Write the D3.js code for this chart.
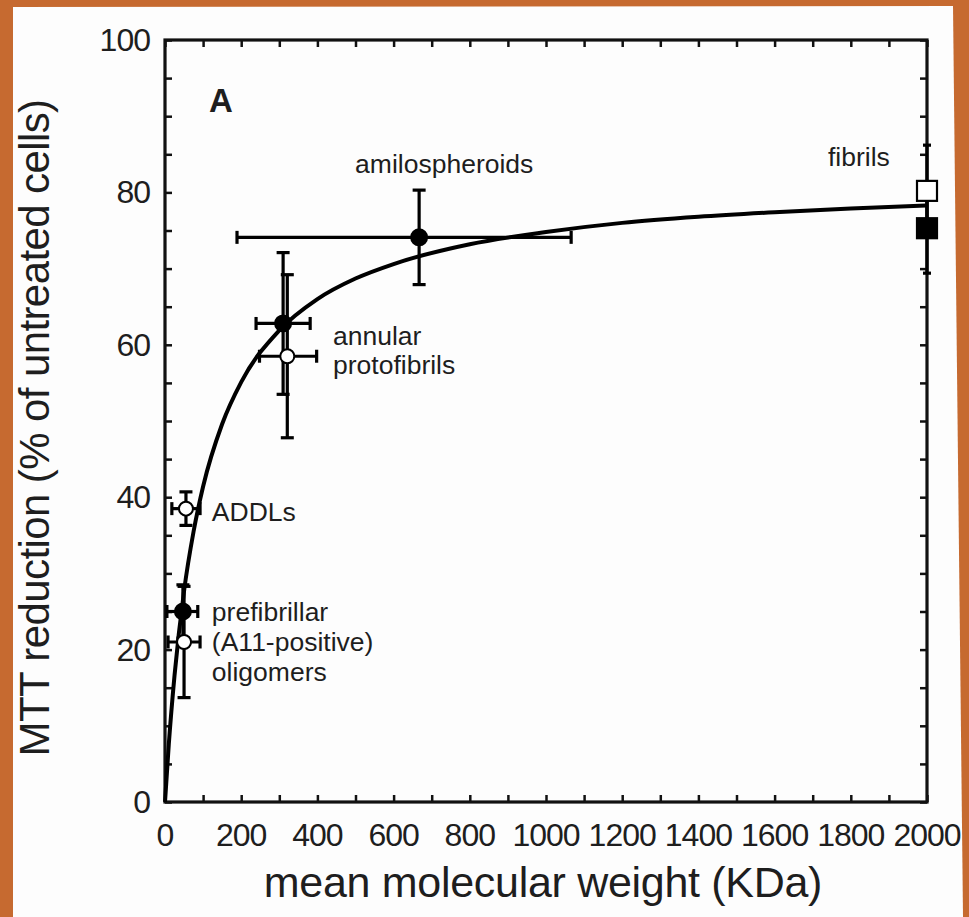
<!DOCTYPE html>
<html>
<head>
<meta charset="utf-8">
<script src="https://cdn.jsdelivr.net/npm/d3@7.9.0/dist/d3.min.js"></script>
<style>
  html, body { margin: 0; padding: 0; background: #c66a30; }
  svg { display: block; }
  text { font-family: "Liberation Sans", Arial, sans-serif; fill: #1e1e1e; }
</style>
</head>
<body>
<svg id="chart" width="969" height="917"></svg>
<script>
// fitted curve
const curveX = [0, 10, 25, 50, 75, 100, 150, 200, 300, 400, 500, 600, 800, 1000, 1200, 1400, 1600, 1800, 2000];
const curveY = [0, 7.6, 16.6, 27.7, 35.5, 41.4, 49.6, 55.1, 61.9, 66.0, 68.7, 70.6, 73.2, 74.8, 76.0, 76.8, 77.4, 77.9, 78.3];

// measured points
const pointX = [47, 50, 55, 310, 321, 667, 2000, 2000];
const pointY = [25, 21, 38.5, 62.8, 58.5, 74.1, 80.2, 75.3];
const xErrLo = [42, 42, 37, 71, 73, 478, 0, 0];
const xErrHi = [39, 42, 37, 71, 77, 399, 0, 0];
const yErr = [3.5, 7.3, 2.2, 9.3, 10.7, 6.2, 6.0, 5.9];
const shapes = ["circle", "circle", "circle", "circle", "circle", "circle", "square", "square"];
const filled = [true, false, false, true, false, true, false, true];

// annotations (text, x value, baseline y value)
const labelText = ["amilospheroids", "fibrils", "annular", "protofibrils", "ADDLs", "prefibrillar", "(A11-positive)", "oligomers"];
const labelX = [499, 1740, 441, 441, 123, 123, 123, 123];
const labelY = [82.5, 83.5, 60, 56.2, 36.9, 23.8, 19.8, 15.9];

const xTicks = d3.range(0, 2001, 200);
const yTicks = d3.range(0, 101, 20);

const svg = d3.select("#chart");

// white card on the orange background
svg.append("polygon")
  .attr("points", "13,7 953,6 963,917 13,917")
  .attr("fill", "#fdfdfd");

const pLeft = 165, pRight = 927, pTop = 40, pBottom = 802;
const x = d3.scaleLinear().domain([0, 2000]).range([pLeft, pRight]);
const y = d3.scaleLinear().domain([0, 100]).range([pBottom, pTop]);

// axes with inward ticks on all four sides
const tickLen = 7;
svg.append("g").attr("transform", `translate(0,${pBottom})`)
  .call(d3.axisBottom(x).tickValues(d3.range(0, 2001, 100)).tickSize(-tickLen).tickFormat(""));
svg.append("g").attr("transform", `translate(0,${pTop})`)
  .call(d3.axisTop(x).tickValues(d3.range(0, 2001, 100)).tickSize(-tickLen).tickFormat(""));
svg.append("g").attr("transform", `translate(${pLeft},0)`)
  .call(d3.axisLeft(y).tickValues(d3.range(0, 101, 5)).tickSize(-tickLen).tickFormat(""));
svg.append("g").attr("transform", `translate(${pRight},0)`)
  .call(d3.axisRight(y).tickValues(d3.range(0, 101, 5)).tickSize(-tickLen).tickFormat(""));
svg.selectAll(".domain").remove();
svg.selectAll(".tick line").attr("stroke", "#111").attr("stroke-width", 2.5);

svg.append("rect")
  .attr("x", pLeft).attr("y", pTop)
  .attr("width", pRight - pLeft).attr("height", pBottom - pTop)
  .attr("fill", "none").attr("stroke", "#111").attr("stroke-width", 3.2);

// tick labels
svg.append("g").selectAll("text").data(xTicks).join("text")
  .attr("x", d => x(d)).attr("y", pBottom + 44)
  .attr("text-anchor", "middle")
  .attr("font-size", 32)
  .attr("letter-spacing", -1)
  .text(d => d);
svg.append("g").selectAll("text").data(yTicks).join("text")
  .attr("x", pLeft - 15).attr("y", d => y(d) + 11)
  .attr("text-anchor", "end")
  .attr("font-size", 32)
  .attr("letter-spacing", -1)
  .text(d => d);

// axis titles
svg.append("text")
  .attr("x", 543).attr("y", 897)
  .attr("text-anchor", "middle")
  .attr("font-size", 43)
  .attr("letter-spacing", -0.3)
  .text("mean molecular weight (KDa)");
svg.append("text")
  .attr("transform", "translate(49,428) rotate(-90)")
  .attr("text-anchor", "middle")
  .attr("font-size", 42)
  .attr("letter-spacing", -0.6)
  .text("MTT reduction (% of untreated cells)");

svg.append("text")
  .attr("x", 209).attr("y", 112)
  .attr("font-size", 33).attr("font-weight", "bold")
  .text("A");

// fitted curve
const line = d3.line()
  .x(d => x(d[0])).y(d => y(d[1]))
  .curve(d3.curveMonotoneX);
svg.append("path")
  .datum(d3.zip(curveX, curveY))
  .attr("d", line)
  .attr("fill", "none").attr("stroke", "#000").attr("stroke-width", 4);

// error bars
const idx = d3.range(pointX.length);
const cap = 6.5;
const eb = svg.append("g").attr("stroke", "#000").attr("stroke-width", 3.2);
idx.forEach(i => {
  const px = x(pointX[i]), py = y(pointY[i]);
  const capW = shapes[i] === "square" ? 4 : cap;
  eb.append("line").attr("x1", px).attr("x2", px)
    .attr("y1", y(pointY[i] + yErr[i])).attr("y2", y(pointY[i] - yErr[i]));
  eb.append("line").attr("x1", px - capW).attr("x2", px + capW)
    .attr("y1", y(pointY[i] + yErr[i])).attr("y2", y(pointY[i] + yErr[i]));
  eb.append("line").attr("x1", px - capW).attr("x2", px + capW)
    .attr("y1", y(pointY[i] - yErr[i])).attr("y2", y(pointY[i] - yErr[i]));
  if (xErrLo[i] > 0 || xErrHi[i] > 0) {
    const x0 = x(pointX[i] - xErrLo[i]), x1 = x(pointX[i] + xErrHi[i]);
    eb.append("line").attr("x1", x0).attr("x2", x1).attr("y1", py).attr("y2", py);
    eb.append("line").attr("x1", x0).attr("x2", x0).attr("y1", py - cap).attr("y2", py + cap);
    eb.append("line").attr("x1", x1).attr("x2", x1).attr("y1", py - cap).attr("y2", py + cap);
  }
});

// markers
const mk = svg.append("g");
idx.forEach(i => {
  const px = x(pointX[i]), py = y(pointY[i]);
  if (shapes[i] === "circle") {
    mk.append("circle").attr("cx", px).attr("cy", py)
      .attr("r", filled[i] ? 8 : 7)
      .attr("fill", filled[i] ? "#000" : "#fff")
      .attr("stroke", "#000").attr("stroke-width", 2);
  } else {
    mk.append("rect").attr("x", px - 10).attr("y", py - 10)
      .attr("width", 20).attr("height", 20)
      .attr("fill", filled[i] ? "#000" : "#fff")
      .attr("stroke", "#000").attr("stroke-width", 2.2);
  }
});

// annotations
svg.append("g").selectAll("text").data(labelText).join("text")
  .attr("x", (d, i) => x(labelX[i])).attr("y", (d, i) => y(labelY[i]))
  .attr("font-size", 26.5)
  .text(d => d);
</script>
</body>
</html>
